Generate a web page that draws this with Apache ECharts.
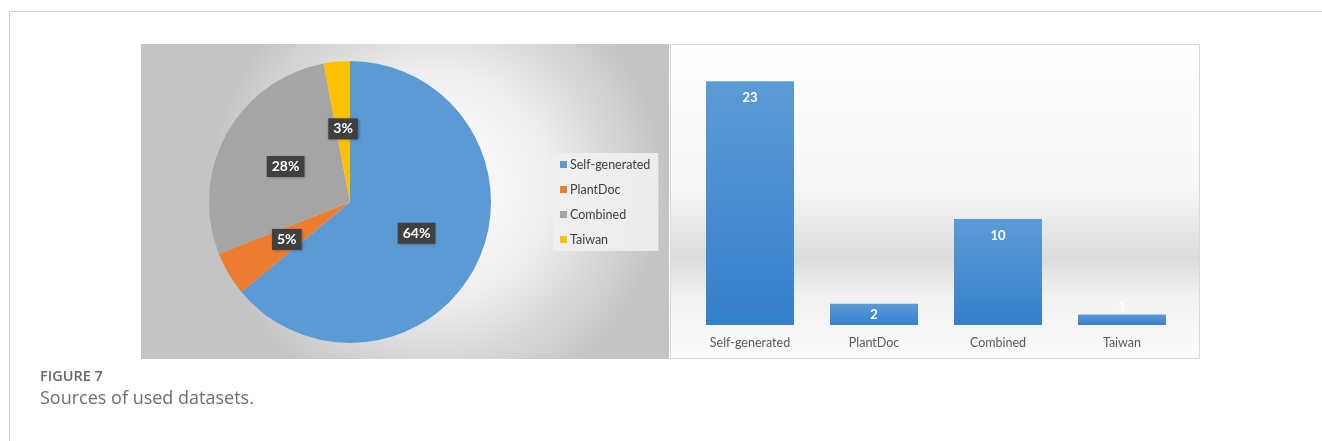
<!DOCTYPE html>
<html>
<head>
<meta charset="utf-8">
<script src="https://cdn.jsdelivr.net/npm/echarts@6/dist/echarts.min.js"></script>
<style>
html,body{margin:0;padding:0;background:#fff;}
#chart{width:1322px;height:441px;}
</style>
</head>
<body>
<div id="chart"></div>
<script>
// ---- data ----
const categories = ['Self-generated', 'PlantDoc', 'Combined', 'Taiwan'];
const pieShares = [64, 5, 28, 3];          // percent labels shown on the pie
const barCounts = [23, 2, 10, 1];          // counts shown on the bar chart
const pieColors = ['#5b9bd5', '#ed7d31', '#a5a5a5', '#ffc000'];
const captionTitle = 'FIGURE 7';
const captionText = 'Sources of used datasets.';

const FONT = 'Lato, "Open Sans", sans-serif';
const CAP_FONT = '"Open Sans", Lato, sans-serif';
const chart = echarts.init(document.getElementById('chart'), null, {renderer: 'canvas'});

const barLabelStyles = [
  {position: 'insideTop', distance: 10, color: '#fff'},
  {position: 'inside', color: '#fff'},
  {position: 'insideTop', distance: 10, color: '#fff'},
  {position: 'top', distance: 1, color: 'rgba(255,255,255,0.85)'}
];

const option = {
  animation: false,
  graphic: [
    // outer frame lines
    {type: 'line', shape: {x1: 9.5, y1: 11.5, x2: 1322, y2: 11.5}, style: {stroke: '#cfcfcf', lineWidth: 1}, z: 0},
    {type: 'line', shape: {x1: 9.5, y1: 11.5, x2: 9.5, y2: 441}, style: {stroke: '#cfcfcf', lineWidth: 1}, z: 0},
    // left panel background
    {type: 'rect', shape: {x: 141, y: 44, width: 528, height: 315}, z: -10,
      style: {fill: new echarts.graphic.RadialGradient(0.56, 0.45, 0.72, [
        {offset: 0, color: '#ffffff'},
        {offset: 0.5, color: '#eeeeee'},
        {offset: 1, color: '#c4c4c4'}
      ])}},
    // right panel background
    {type: 'rect', shape: {x: 670.5, y: 44.5, width: 529, height: 314}, z: -10,
      style: {stroke: '#d9d9d9', lineWidth: 1, fill: new echarts.graphic.LinearGradient(0, 0, 0, 1, [
        {offset: 0, color: '#ffffff'},
        {offset: 0.45, color: '#f7f7f7'},
        {offset: 0.68, color: '#dcdcdc'},
        {offset: 0.8, color: '#f1f1f1'},
        {offset: 1, color: '#fbfbfb'}
      ])}},
    // caption
    {type: 'text', left: 40, top: 369, style: {text: captionTitle, font: '600 14.5px ' + CAP_FONT, fill: '#666666'}},
    {type: 'text', left: 40, top: 390, style: {text: captionText, font: '18px ' + CAP_FONT, fill: '#6e6e6e'}}
  ],
  legend: {
    data: categories,
    orient: 'vertical',
    left: 553, top: 153,
    padding: [4, 8, 4, 7],
    itemGap: 10,
    itemWidth: 7, itemHeight: 7,
    icon: 'rect',
    backgroundColor: 'rgba(240,240,240,0.9)',
    textStyle: {fontFamily: FONT, fontSize: 12.5, color: '#404040', lineHeight: 15, padding: [0, 0, 0, -2]}
  },
  grid: {left: 688, right: 1322 - 1184, top: 60, bottom: 116},
  xAxis: {
    type: 'category',
    data: categories,
    axisLine: {show: false},
    axisTick: {show: false},
    axisLabel: {margin: 11, fontFamily: FONT, fontSize: 12.5, color: '#595959'}
  },
  yAxis: {type: 'value', min: 0, max: 25, show: false, splitLine: {show: false}},
  series: [
    {
      type: 'pie',
      center: [350, 202],
      radius: 141,
      startAngle: 90,
      clockwise: true,
      data: categories.map((c, i) => ({name: c, value: pieShares[i], itemStyle: {color: pieColors[i]}})),
      label: {
        position: 'inside',
        formatter: p => pieShares[p.dataIndex] + '%',
        backgroundColor: '#404040',
        padding: [4, 5, 3, 5],
        color: '#ffffff',
        fontFamily: FONT,
        fontWeight: 'bold',
        fontSize: 14,
        shadowColor: 'rgba(0,0,0,0.35)',
        shadowBlur: 3,
        shadowOffsetX: 1,
        shadowOffsetY: 1
      },
      labelLine: {show: false},
      itemStyle: {borderWidth: 0},
      emphasis: {disabled: true}
    },
    {
      type: 'bar',
      name: 'Count',
      data: barCounts.map((v, i) => ({value: v, label: barLabelStyles[i]})),
      barWidth: 88,
      itemStyle: {
        color: new echarts.graphic.LinearGradient(0, 0, 0, 1, [
          {offset: 0, color: '#5b9bd6'},
          {offset: 1, color: '#3580cc'}
        ])
      },
      label: {show: true, fontFamily: FONT, fontWeight: 'bold', fontSize: 13, color: '#fff'},
      emphasis: {disabled: true}
    }
  ]
};
chart.setOption(option);
</script>
</body>
</html>
